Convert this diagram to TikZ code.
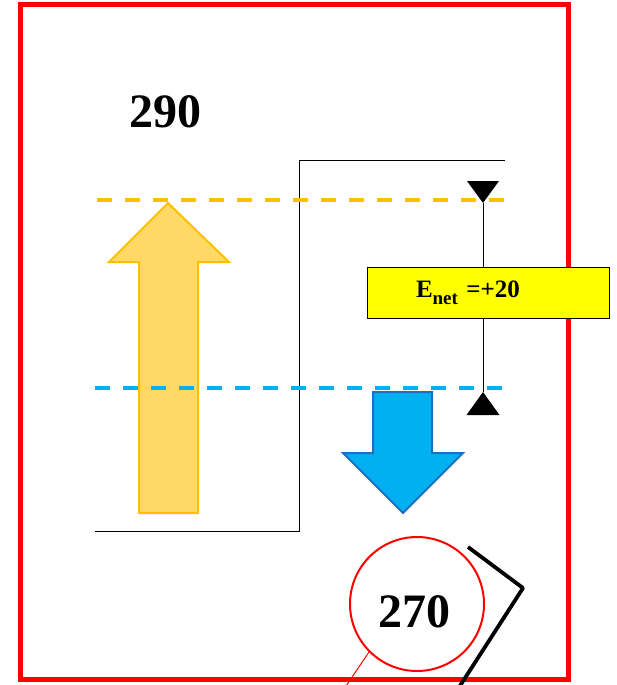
\documentclass[tikz,border=0pt]{standalone}
\usepackage{fontspec}
\setmainfont{Liberation Serif}
\definecolor{orgline}{HTML}{FFC000}
\definecolor{orgfill}{HTML}{FFD966}
\definecolor{bluline}{HTML}{00B0F0}
\definecolor{bludark}{HTML}{1F6FC0}
\definecolor{yelbox}{HTML}{FFFF00}
\begin{document}
\begin{tikzpicture}[x=1pt,y=-1pt]
\tikzset{
  bignum/.style={font=\fontsize{48}{48}\selectfont\bfseries, inner sep=0pt},
  levelline/.style={line width=3.6pt, dash pattern=on 15pt off 13pt},
  thinblack/.style={black, line width=1pt},
  labelbox/.style={draw=black, line width=1pt, fill=yelbox, minimum width=242pt, minimum height=51pt, inner sep=0pt, font=\fontsize{25}{25}\selectfont\bfseries}
}
\useasboundingbox (0,0) rectangle (616,685);
% frame
\draw[red, line width=5pt] (20,5) rectangle (568,679);
% step line
\draw[thinblack] (95,531) -- (299,531) -- (299,160) -- (505,160);
% orange arrow
\draw[orgline, fill=orgfill, line width=2pt] (168,203) -- (229,262) -- (198,262) -- (198,513) -- (139,513) -- (139,262) -- (109,262) -- cycle;
% blue arrow
\draw[bludark, fill=bluline, line width=2pt] (373,392) -- (432,392) -- (432,453) -- (463,453) -- (403,513) -- (343,453) -- (373,453) -- cycle;
% level lines
\draw[levelline, orgline] (97,200) -- (505,200);
\draw[levelline, bluline] (95,388) -- (505,388);
% dimension
\coordinate (tt) at (483,203);
\coordinate (bt) at (483,392);
\draw[thinblack] (tt) -- (bt);
\fill[black] (tt) -- ++(-16,-22) -- ++(32,0) -- cycle;
\fill[black] (bt) -- ++(-16.5,23) -- ++(33,0) -- cycle;
\node[labelbox, text width=242pt, align=left] (enet) at (488,292.5) {\hspace*{49pt}E\raisebox{-0.28em}{\fontsize{19}{19}\selectfont net} =+20};
% numbers
\node[bignum] (n290) at (165,112) {290};
\node[bignum, draw=red, line width=2pt, circle, minimum size=134pt] (n270) at (417,604) {};
\node[bignum] (t270) at (414,612) {270};
\coordinate (redend) at (342,692);
\draw[red, line width=1pt] (n270.225) -- (redend);
% black bracket
\coordinate (bk1) at (468,547);
\coordinate (bk2) at (523,588);
\coordinate (bk3) at (456,692);
\draw[black, line width=3.8pt, line join=round] (bk1) -- (bk2) -- (bk3);
\end{tikzpicture}
\end{document}
